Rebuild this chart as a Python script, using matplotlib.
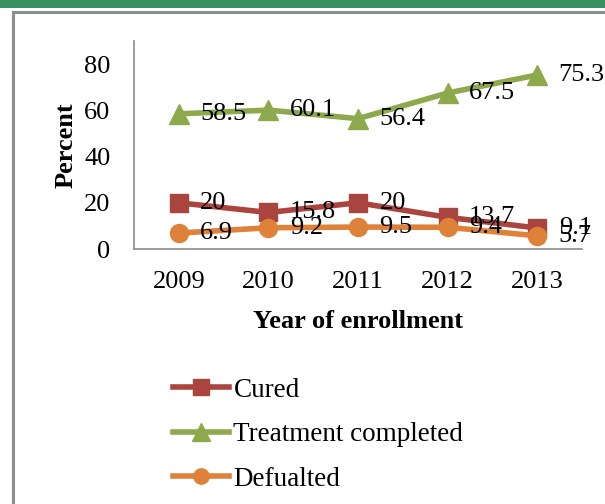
import matplotlib.pyplot as plt
from matplotlib.patches import Rectangle
from matplotlib.lines import Line2D

years = ["2009", "2010", "2011", "2012", "2013"]
cured = [20, 15.8, 20, 13.7, 9.1]
completed = [58.5, 60.1, 56.4, 67.5, 75.3]
defaulted = [6.9, 9.2, 9.5, 9.4, 5.7]

W, H = 605, 504
plt.rcParams["font.family"] = ["Liberation Serif", "DejaVu Serif"]

fig = plt.figure(figsize=(W / 100, H / 100), dpi=100)

# page decoration: green bar on top and grey frame
fig.add_artist(Rectangle((0, 1 - 8 / H), 1, 8 / H, transform=fig.transFigure,
                         color="#3A9162", lw=0))
fig.add_artist(Line2D([13 / W, 13 / W], [0, 1 - 12 / H], transform=fig.transFigure,
                      color="#8C8C8C", lw=2.2))
fig.add_artist(Line2D([13 / W, 1], [1 - 12 / H, 1 - 12 / H], transform=fig.transFigure,
                      color="#8C8C8C", lw=2.2))

ax = fig.add_axes([134 / W, 1 - 249 / H, (582 - 134) / W, (249 - 41) / H])

x = list(range(len(years)))
series = [
    ("Cured", cured, "#A9443F", "s", 13),
    ("Treatment completed", completed, "#8DA94B", "^", 15),
    ("Defualted", defaulted, "#DE8139", "o", 13),
]
for name, vals, col, mk, ms in series:
    ax.plot(x, vals, color=col, lw=4, marker=mk, markersize=ms, label=name)
    for xi, v in zip(x, vals):
        ax.annotate(f"{v:g}", (xi, v), xytext=(15.5, 0), textcoords="offset points",
                    ha="left", va="center", fontsize=19)

ax.set_xlim(-0.5, 4.5)
ax.set_ylim(0, 90)
ax.set_yticks([0, 20, 40, 60, 80])
ax.set_xticks(x)
ax.set_xticklabels(years)
ax.tick_params(length=0, labelsize=19, pad=16)
ax.tick_params(axis="y", pad=17)
for s in ["top", "right"]:
    ax.spines[s].set_visible(False)
for s in ["left", "bottom"]:
    ax.spines[s].set_color("#8C8C8C")
    ax.spines[s].set_linewidth(1.2)

ax.set_ylabel("Percent", fontsize=19, fontweight="bold", labelpad=5)
ax.set_xlabel("Year of enrollment", fontsize=19, fontweight="bold", labelpad=12)

fig.legend(loc="upper left", bbox_to_anchor=(159 / W, 1 - 364 / H), frameon=False,
           fontsize=19.5, handlelength=2.1, handletextpad=0.15, labelspacing=0.72,
           borderpad=0, markerscale=0.85)

fig.savefig("out.png", dpi=100)
